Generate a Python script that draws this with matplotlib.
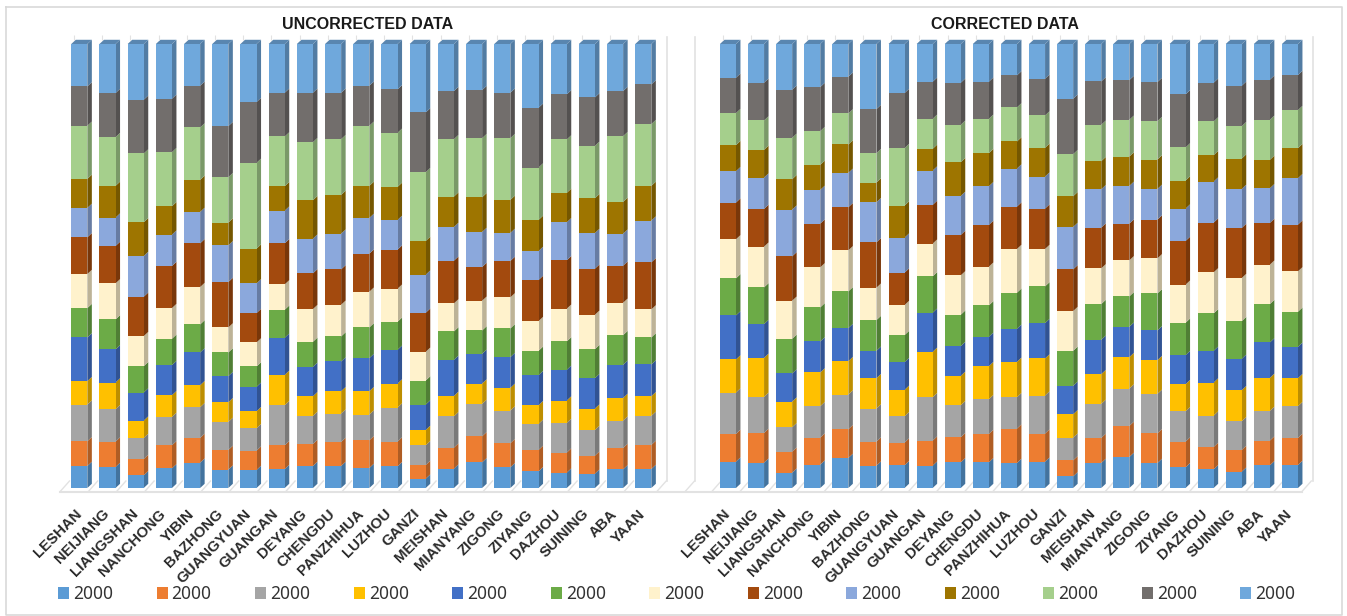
import matplotlib
matplotlib.use('Agg')
import matplotlib.pyplot as plt
from matplotlib.collections import PolyCollection
from matplotlib.transforms import ScaledTranslation
import numpy as np
import matplotlib.colors as mcolors

plt.rcParams['font.family'] = ['Noto Sans', 'DejaVu Sans']

cities = ['LESHAN', 'NEIJIANG', 'LIANGSHAN', 'NANCHONG', 'YIBIN', 'BAZHONG', 'GUANGYUAN',
          'GUANGAN', 'DEYANG', 'CHENGDU', 'PANZHIHUA', 'LUZHOU', 'GANZI', 'MEISHAN',
          'MIANYANG', 'ZIGONG', 'ZIYANG', 'DAZHOU', 'SUINING', 'ABA', 'YAAN']
legend_labels = ['2000'] * 13

# values, bottom segment first; bars are normalised to 100%
u1 = [66, 63, 38, 59, 76, 55, 54, 57, 66, 66, 60, 65, 28, 58, 77, 62, 50, 46, 43, 56, 57]
u2 = [74, 76, 49, 69, 74, 59, 58, 71, 66, 72, 83, 74, 41, 63, 78, 72, 64, 60, 54, 64, 72]
u3 = [110, 97, 63, 85, 92, 84, 67, 120, 84, 85, 77, 102, 59, 94, 97, 98, 78, 89, 77, 82, 87]
u4 = [70, 80, 52, 65, 66, 59, 51, 91, 59, 67, 70, 72, 46, 61, 61, 68, 56, 67, 64, 68, 59]
u5 = [131, 99, 84, 90, 98, 78, 73, 111, 88, 89, 99, 101, 76, 108, 89, 92, 90, 92, 91, 99, 95]
u6 = [88, 90, 79, 79, 84, 71, 61, 84, 75, 75, 92, 84, 72, 85, 70, 86, 73, 85, 87, 89, 81]
u7 = [102, 108, 90, 92, 112, 75, 72, 76, 98, 95, 107, 99, 86, 84, 89, 93, 89, 98, 103, 97, 84]
u8 = [110, 112, 118, 126, 131, 136, 88, 123, 107, 106, 114, 117, 117, 128, 101, 109, 123, 145, 138, 111, 141]
u9 = [88, 85, 122, 94, 94, 110, 89, 98, 104, 107, 107, 89, 114, 101, 105, 84, 87, 114, 107, 96, 125]
u10 = [87, 95, 101, 85, 96, 68, 104, 73, 115, 116, 96, 99, 101, 91, 104, 99, 93, 88, 104, 95, 104]
u11 = [159, 146, 206, 162, 157, 136, 257, 149, 174, 167, 180, 162, 206, 172, 177, 185, 157, 160, 157, 197, 185]
u12 = [118, 132, 161, 160, 125, 153, 182, 131, 148, 139, 120, 130, 179, 144, 144, 136, 179, 135, 145, 135, 119]
u13 = [127, 147, 167, 164, 125, 246, 174, 146, 146, 146, 125, 136, 205, 141, 138, 146, 191, 151, 160, 141, 121]

c1 = [79, 76, 46, 70, 90, 67, 68, 67, 77, 77, 75, 79, 35, 75, 93, 75, 62, 56, 49, 68, 69]
c2 = [83, 89, 63, 81, 86, 72, 68, 75, 75, 85, 103, 84, 48, 75, 93, 89, 77, 67, 65, 74, 81]
c3 = [124, 108, 73, 94, 104, 99, 79, 130, 96, 104, 94, 114, 68, 102, 112, 118, 91, 94, 86, 89, 95]
c4 = [99, 117, 77, 101, 100, 91, 79, 136, 88, 99, 106, 111, 70, 89, 94, 101, 81, 99, 93, 99, 84]
c5 = [132, 101, 84, 93, 99, 82, 83, 117, 89, 88, 99, 106, 85, 103, 91, 89, 87, 95, 94, 106, 94]
c6 = [111, 110, 104, 102, 110, 92, 81, 109, 94, 94, 108, 110, 105, 107, 91, 111, 97, 112, 113, 115, 105]
c7 = [117, 122, 114, 120, 123, 97, 90, 98, 118, 116, 131, 112, 119, 107, 108, 105, 114, 123, 129, 118, 121]
c8 = [110, 113, 133, 131, 129, 136, 97, 116, 121, 125, 127, 121, 125, 122, 110, 116, 131, 149, 150, 125, 140]
c9 = [94, 94, 140, 101, 103, 120, 105, 103, 117, 116, 114, 96, 127, 115, 113, 92, 97, 123, 117, 104, 139]
c10 = [78, 83, 91, 75, 85, 59, 96, 65, 101, 99, 81, 86, 92, 84, 88, 88, 84, 79, 91, 85, 90]
c11 = [96, 88, 124, 101, 93, 88, 172, 90, 112, 103, 102, 97, 126, 109, 110, 115, 99, 101, 97, 120, 114]
c12 = [106, 113, 144, 132, 110, 132, 165, 111, 126, 111, 96, 110, 166, 130, 119, 117, 159, 116, 121, 120, 105]
c13 = [101, 116, 137, 129, 98, 195, 147, 113, 116, 113, 94, 104, 164, 112, 108, 114, 151, 116, 125, 107, 93]

uncorrected = [u1, u2, u3, u4, u5, u6, u7, u8, u9, u10, u11, u12, u13]
corrected = [c1, c2, c3, c4, c5, c6, c7, c8, c9, c10, c11, c12, c13]

colors = ['#5B9BD5', '#ED7D31', '#A5A5A5', '#FFC000', '#4270C6', '#6CAB47', '#FFF2CC',
          '#A34A0E', '#8BA8DC', '#9E7500', '#A5CF8C', '#726E6C', '#6FA8DC']

W, H = 1347, 616
BAR_W = 0.57
DX, DY = 0.16, 0.95  # depth of the fake 3D faces, in data units
GRID = '#e2e2e2'
BOLD_FONT = 'Liberation Sans'


def shade(c, f):
    return tuple(v * f for v in mcolors.to_rgb(c))


def stacked_3d(ax, series):
    vals = np.array(series, dtype=float)
    shares = vals / vals.sum(axis=0) * 100
    x = np.arange(len(cities))
    bottom = np.zeros(len(cities))
    handles = []
    for s, col in zip(shares, colors):
        h = ax.bar(x, s, BAR_W, bottom=bottom, color=col, linewidth=0, zorder=3)
        handles.append(h)
        sides = []
        for xi, b, t in zip(x, bottom, bottom + s):
            r = xi + BAR_W / 2
            sides.append([(r, b), (r + DX, b + DY), (r + DX, t + DY), (r, t)])
        ax.add_collection(PolyCollection(sides, facecolors=[shade(col, 0.74)], linewidths=0, zorder=2,
                                         clip_on=False))
        bottom = bottom + s
    tops = [[(xi - BAR_W / 2, 100), (xi + BAR_W / 2, 100), (xi + BAR_W / 2 + DX, 100 + DY),
             (xi - BAR_W / 2 + DX, 100 + DY)] for xi in x]
    ax.add_collection(PolyCollection(tops, facecolors=[shade(colors[-1], 0.8)], linewidths=0, zorder=2,
                                     clip_on=False))
    ax.vlines(x - BAR_W / 2 + 0.1, 100.9, 102, color=GRID, linewidth=0.8, clip_on=False)
    ax.set_xlim(-0.5, 20.5)
    ax.set_ylim(0, 100)
    ax.set_yticks([])
    ax.set_xticks(x)
    ax.set_xticklabels(cities, rotation=45, ha='right', va='top', rotation_mode='anchor',
                       fontsize=10.8, fontweight='bold', family=BOLD_FONT, color='#2b2b2b')
    ax.tick_params(axis='x', length=0, pad=13.5)
    # labels sit a little left of the bar centres
    shift = ScaledTranslation(-5 / 100, 0, fig.dpi_scale_trans)
    for lab in ax.get_xticklabels():
        lab.set_transform(lab.get_transform() + shift)
    ax.patch.set_alpha(0)
    for sp in ax.spines.values():
        sp.set_visible(False)
    return handles


fig = plt.figure(figsize=(W / 100, H / 100), dpi=100)

# frame, floor and walls
bg = fig.add_axes([0, 0, 1, 1], zorder=0)
bg.set_xlim(0, W)
bg.set_ylim(H, 0)
bg.axis('off')
bg.plot([6, 1342, 1342, 6, 6], [7, 7, 615, 615, 7], color='#d9d9d9', linewidth=1.2)
bg.plot([60, 1302], [491.7, 491.7], color=GRID, linewidth=1.5)
for xw in [666.7, 695, 1313]:
    bg.plot([xw, xw], [37, 481], color=GRID, linewidth=1.2)
for x0 in list(60 + 28.2 * np.arange(21)) + [656.7, 685] + list(711.7 + 28.1 * np.arange(22)):
    bg.plot([x0, x0 + 9.5], [491.7, 481], color=GRID, linewidth=1)

ax1 = fig.add_axes([65.2 / W, 1 - 488 / H, 592.2 / W, 444 / H], zorder=1)
ax2 = fig.add_axes([713.9 / W, 1 - 488 / H, 590.1 / W, 444 / H], zorder=1)
handles = stacked_3d(ax1, uncorrected)
stacked_3d(ax2, corrected)

fig.text(367.5 / W, 1 - 24.5 / H, 'UNCORRECTED DATA', ha='center', va='center', fontsize=11.5,
         fontweight='bold', family=BOLD_FONT, color='#1a1a1a')
fig.text(1004.5 / W, 1 - 24.5 / H, 'CORRECTED DATA', ha='center', va='center', fontsize=11.5,
         fontweight='bold', family=BOLD_FONT, color='#1a1a1a')

fig.legend(handles, legend_labels, ncol=13, loc='center left', bbox_to_anchor=(58 / W, 1 - 594 / H),
           frameon=False, fontsize=12.5, handlelength=0.65, handleheight=0.65, handletextpad=0.22,
           columnspacing=2.5, borderpad=0, borderaxespad=0, labelcolor='#333333')

fig.savefig('out.png', dpi=100)
